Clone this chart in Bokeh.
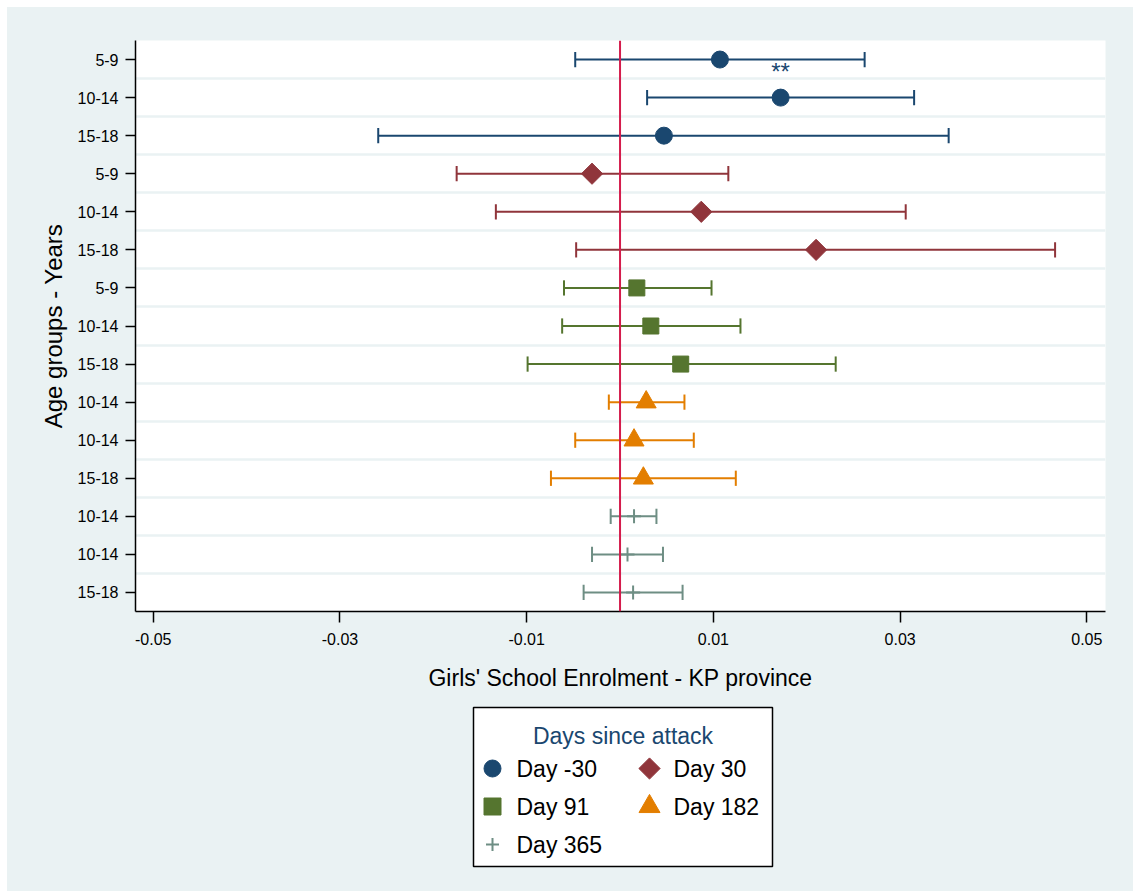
import numpy as np
from bokeh.plotting import figure
from bokeh.layouts import column
from bokeh.models import Range1d, FixedTicker, Span, ColumnDataSource
from bokeh.core.properties import value
from bokeh.embed import file_html
from bokeh.resources import INLINE

# ---------------- data ----------------
age_labels = ["5-9", "10-14", "15-18", "5-9", "10-14", "15-18", "5-9", "10-14", "15-18",
              "10-14", "10-14", "15-18", "10-14", "10-14", "15-18"]
series_of_row = [0, 0, 0, 1, 1, 1, 2, 2, 2, 3, 3, 3, 4, 4, 4]
days = ["Day -30", "Day 30", "Day 91", "Day 182", "Day 365"]
estimate = [0.0107, 0.0172, 0.0047, -0.0030, 0.0087, 0.0210, 0.0018, 0.0033, 0.0065,
            0.0028, 0.0015, 0.0025, 0.0015, 0.0008, 0.0014]
lower = [-0.0048, 0.0029, -0.0259, -0.0175, -0.0133, -0.0047, -0.0060, -0.0062, -0.0099,
         -0.0012, -0.0048, -0.0074, -0.0010, -0.0030, -0.0039]
upper = [0.0262, 0.0315, 0.0352, 0.0116, 0.0306, 0.0466, 0.0098, 0.0129, 0.0231,
         0.0069, 0.0079, 0.0124, 0.0039, 0.0046, 0.0067]
stars = ["", "**", "", "", "", "", "", "", "", "", "", "", "", "", ""]
x_ticks = [-0.05, -0.03, -0.01, 0.01, 0.03, 0.05]
x_tick_labels = ["-0.05", "-0.03", "-0.01", "0.01", "0.03", "0.05"]
x_title = "Girls' School Enrolment - KP province"
y_title = "Age groups - Years"
legend_title = "Days since attack"

# ---------------- styles ----------------
colors = ["#1a476f", "#90353b", "#55752f", "#e37e00", "#6e8e84"]
markers = ["circle", "square", "square", "triangle", "cross"]
msizes = [17, 15, 16, 20, 14]
leg_sizes = [17, 15, 17, 21, 13]
mangles = [0, np.pi / 4, 0, 0, 0]
BG = "#eaf2f3"
FONT = "Liberation Sans"
CAP = 0.2
W = 1126
BL, BR = 128, 28          # left / right borders of both strips
FRAME_W = W - BL - BR

rows = np.arange(1, len(age_labels) + 1)
est = np.array(estimate)
lo = np.array(lower)
hi = np.array(upper)
ser = np.array(series_of_row)

# ================= main plot =================
p = figure(width=W, height=693, output_backend="svg", toolbar_location=None,
           x_range=Range1d(-0.0519, 0.0520), y_range=Range1d(len(age_labels) + 0.5, 0.5),
           min_border_left=BL, min_border_right=BR, min_border_top=33, min_border_bottom=89,
           background_fill_color="white", border_fill_color=BG, outline_line_color=None)

p.xgrid.visible = False
p.ygrid.ticker = FixedTicker(ticks=list(rows[:-1] + 0.5))
p.ygrid.grid_line_color = BG
p.ygrid.grid_line_width = 2.5

p.yaxis.ticker = FixedTicker(ticks=list(rows))
p.yaxis.major_label_overrides = {int(r): lab for r, lab in zip(rows, age_labels)}
p.xaxis.ticker = FixedTicker(ticks=x_ticks)
p.xaxis.major_label_overrides = {t: lab for t, lab in zip(x_ticks, x_tick_labels)}
for ax in (p.xaxis[0], p.yaxis[0]):
    ax.axis_line_color = "black"
    ax.axis_line_width = 1.5
    ax.major_tick_line_color = "black"
    ax.major_tick_line_width = 1.5
    ax.major_tick_in = 0
    ax.minor_tick_out = 0
    ax.minor_tick_in = 0
    ax.major_label_text_font = FONT
    ax.major_label_text_font_size = "16px"
    ax.major_label_text_color = "black"
    ax.axis_label_text_font = FONT
    ax.axis_label_text_font_style = "normal"
    ax.axis_label_text_color = "black"
p.xaxis.major_tick_out = 11
p.yaxis.major_tick_out = 10
p.xaxis.major_label_standoff = 10
p.yaxis.major_label_standoff = 7
p.xaxis.axis_label = x_title
p.yaxis.axis_label = y_title
p.xaxis.axis_label_text_font_size = "23px"
p.yaxis.axis_label_text_font_size = "24px"
p.xaxis.axis_label_standoff = 17
p.yaxis.axis_label_standoff = 8

p.add_layout(Span(location=0, dimension="height", line_color="#d41c4c", line_width=2))

for k, day in enumerate(days):
    m = ser == k
    src = ColumnDataSource(dict(y=rows[m], est=est[m], lo=lo[m], hi=hi[m],
                                y0=rows[m] - CAP, y1=rows[m] + CAP))
    p.segment(x0="lo", y0="y", x1="hi", y1="y", source=src, line_color=colors[k], line_width=2)
    p.segment(x0="lo", y0="y0", x1="lo", y1="y1", source=src, line_color=colors[k], line_width=2)
    p.segment(x0="hi", y0="y0", x1="hi", y1="y1", source=src, line_color=colors[k], line_width=2)
    if markers[k] == "cross":
        p.scatter(x="est", y="y", source=src, marker="cross", size=msizes[k],
                  line_color=colors[k], line_width=2)
    else:
        p.scatter(x="est", y="y", source=src, marker=markers[k], size=msizes[k],
                  angle=mangles[k], fill_color=colors[k], line_color=colors[k], line_width=1)

sm = np.array([s != "" for s in stars])
star_src = ColumnDataSource(dict(x=est[sm], y=rows[sm], t=[s for s in stars if s]))
p.text(x="x", y="y", text="t", source=star_src, text_font=value(FONT), text_font_size="24px",
       text_color=colors[0], text_align="center", text_baseline="alphabetic", y_offset=-26)

# ================= legend strip below (pixel coordinates) =================
STRIP_H = 191
lf = figure(width=W, height=STRIP_H, output_backend="svg", toolbar_location=None,
            x_range=Range1d(0, FRAME_W), y_range=Range1d(STRIP_H, 0),
            x_axis_type=None, y_axis_type=None,
            min_border_left=BL, min_border_right=BR, min_border_top=0, min_border_bottom=0,
            background_fill_color=BG, border_fill_color=BG, outline_line_color=None)
lf.grid.visible = False

BX, BY, BW, BH = 338, 7, 299, 159
lf.quad(left=[BX], right=[BX + BW], top=[BY], bottom=[BY + BH], fill_color="white",
        line_color="black", line_width=1.5)
lf.text(x=[BX + BW / 2], y=[BY + 28], text=[legend_title], text_font=value(FONT),
        text_font_size="23px", text_color=colors[0], text_align="center",
        text_baseline="middle")

col_step, row_step = 157, 38
for k, day in enumerate(days):
    c, r = k % 2, k // 2
    mx = BX + 19 + c * col_step
    my = BY + 61 + r * row_step
    if markers[k] == "cross":
        lf.scatter(x=[mx], y=[my], marker="cross", size=leg_sizes[k],
                   line_color=colors[k], line_width=2)
    else:
        lf.scatter(x=[mx], y=[my], marker=markers[k], size=leg_sizes[k], angle=mangles[k],
                   fill_color=colors[k], line_color=colors[k], line_width=1)
    lf.text(x=[mx + 24], y=[my], text=[day], text_font=value(FONT), text_font_size="23px",
            text_color="black", text_align="left", text_baseline="middle")

layout = column(p, lf)
layout.margin = (7, 0, 0, 7)
layout.styles = {"background-color": BG}

open("out.html", "w").write(file_html(layout, INLINE))
